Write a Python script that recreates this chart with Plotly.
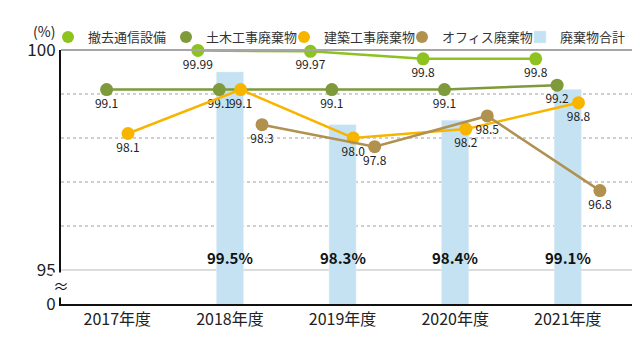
import plotly.graph_objects as go

# ---- data ----
years = ["2017年度", "2018年度", "2019年度", "2020年度", "2021年度"]
tekkyo = [None, 99.99, 99.97, 99.8, 99.8]        # 撤去通信設備
doboku = [99.1, 99.1, 99.1, 99.1, 99.2]          # 土木工事廃棄物
kenchiku = [98.1, 99.1, 98.0, 98.2, 98.8]        # 建築工事廃棄物
office = [None, 98.3, 97.8, 98.5, 96.8]          # オフィス廃棄物
total = [None, 99.5, 98.3, 98.4, 99.1]           # 廃棄物合計

series_names = ["撤去通信設備", "土木工事廃棄物", "建築工事廃棄物", "オフィス廃棄物"]
series_values = [tekkyo, doboku, kenchiku, office]
total_name = "廃棄物合計"

y_tick_vals_major = [95, 100]
y_tick_text = ["0", "95", "100"]
y_minor_vals = [96, 97, 98, 99]

# ---- style ----
FONT = "Noto Sans CJK JP"
colors = ["#8dc21f", "#7e9a3b", "#f8b500", "#b0914f"]
bar_color = "#c4e2f2"
Y_MIN, Y_MAX = 94.22, 100.0

fig = go.Figure()

fig.add_trace(go.Bar(
    x=years, y=total, name=total_name, marker_color=bar_color, width=0.24,
    legendrank=5, hoverinfo="skip", alignmentgroup="bars", offsetgroup="total",
))

for i, (nm, vals, c) in enumerate(zip(series_names, series_values, colors)):
    fig.add_trace(go.Scatter(
        x=years, y=vals, mode="lines+markers+text", name=nm,
        line=dict(color=c, width=2.5), marker=dict(color=c, size=13),
        text=["" if v is None else str(v) for v in vals],
        textposition="bottom center",
        textfont=dict(family=FONT, size=12, color="#222"),
        alignmentgroup="lines", offsetgroup=nm, showlegend=False, cliponaxis=False,
    ))
    # legend proxy (dot only)
    fig.add_trace(go.Scatter(
        x=[None], y=[None], mode="markers", name=nm,
        marker=dict(color=c, size=12), alignmentgroup="lines", offsetgroup=nm,
        legendrank=i + 1,
    ))

annotations = []
for yr, v in zip(years, total):
    if v is None:
        continue
    annotations.append(dict(
        x=yr, y=y_tick_vals_major[0], xref="x", yref="y",
        text=f"<b>{v}%</b>", showarrow=False, yanchor="bottom", yshift=0,
        font=dict(family=FONT, size=15, color="#111"),
    ))
annotations.append(dict(
    x=0, y=(Y_MIN + y_tick_vals_major[0]) / 2, xref="paper", yref="y",
    text="≈", showarrow=False, bgcolor="white", borderpad=0,
    xanchor="center", yanchor="middle", yshift=2,
    font=dict(family=FONT, size=16, color="#111"),
))
annotations.append(dict(
    x=-0.03, y=1.075, xref="paper", yref="paper", text="(%)", showarrow=False,
    xanchor="center", yanchor="middle",
    font=dict(family=FONT, size=14, color="#222"),
))

fig.update_layout(
    width=632, height=348,
    margin=dict(l=53, r=8, t=42, b=52, autoexpand=False),
    paper_bgcolor="white", plot_bgcolor="white",
    font=dict(family=FONT, color="#222"),
    scattermode="group", scattergap=0.24,
    barmode="group",
    showlegend=True,
    legend=dict(
        orientation="h", x=-0.0228, xanchor="left", y=1.051, yanchor="middle",
        font=dict(family=FONT, size=13, color="#333"),
        itemwidth=30, entrywidth=73, entrywidthmode="pixels",
        bgcolor="rgba(0,0,0,0)",
    ),
    annotations=annotations,
    shapes=[dict(type="line", xref="paper", yref="paper", x0=0, x1=1, y0=1, y1=1,
                 line=dict(color="#a6a6a6", width=2), layer="above")],
)

fig.update_xaxes(
    type="category", categoryorder="array", categoryarray=years,
    range=[-0.5, 4.57], showgrid=False, ticks="",
    showline=True, linecolor="#111", linewidth=2,
    tickfont=dict(family=FONT, size=16, color="#222"),
)
fig.update_yaxes(
    range=[Y_MIN, Y_MAX],
    tickmode="array", tickvals=[Y_MIN] + y_tick_vals_major, ticktext=y_tick_text,
    tickfont=dict(family=FONT, size=17, color="#222"),
    showgrid=True, gridcolor="#dcdcdc", gridwidth=2,
    minor=dict(tickvals=y_minor_vals, showgrid=True, gridcolor="#cfcfcf",
               griddash="dot", gridwidth=1.5),
    showline=True, linecolor="#111", linewidth=2, mirror=True,
    zeroline=False, ticks="",
)

fig.write_html("out.html")
